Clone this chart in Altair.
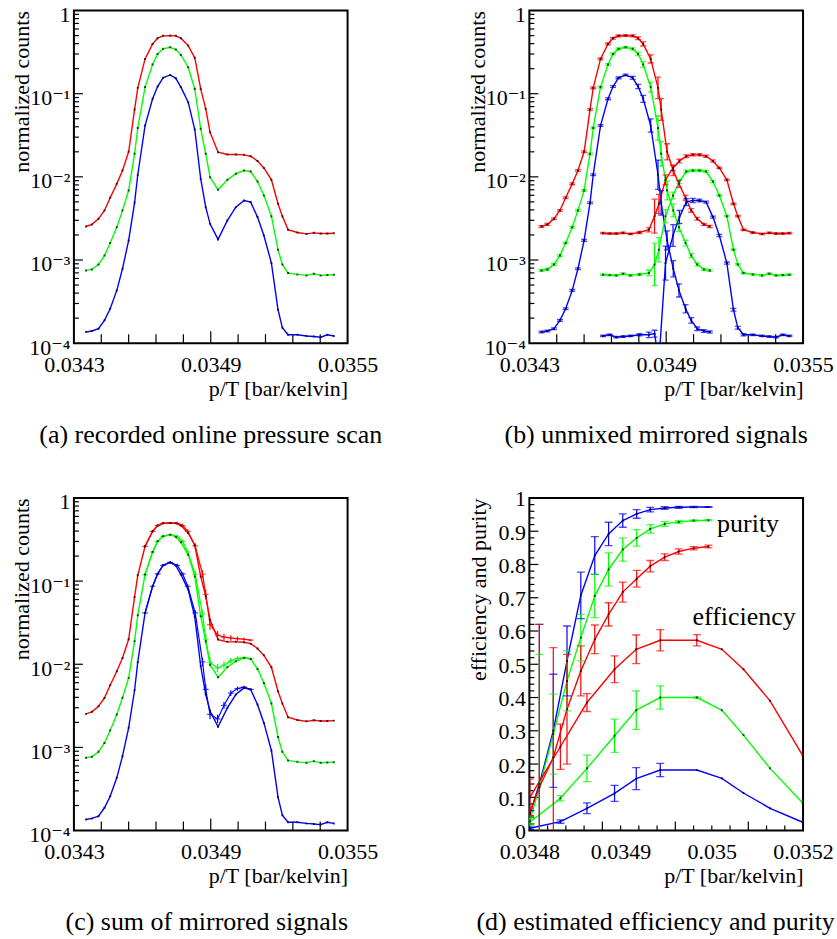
import altair as alt
import pandas as pd

FONT = "'Liberation Serif', 'Times New Roman', Times, 'DejaVu Serif', serif"
RED, GREEN, BLUE = "#ff0000", "#00ff00", "#0000ff"
W, H = 274, 333

# ---------------- (a) recorded online pressure scan ----------------
scan_x = [0.034353, 0.034379, 0.034408, 0.034434, 0.034459, 0.034488, 0.034513, 0.034540,
          0.034566, 0.034580, 0.034612, 0.034645, 0.034667, 0.034691, 0.034722, 0.034747,
          0.034769, 0.034801, 0.034830, 0.034856, 0.034878, 0.034897, 0.034932, 0.034973,
          0.035010, 0.035046, 0.035075, 0.035105, 0.035133, 0.035166, 0.035195, 0.035214,
          0.035239, 0.035280, 0.035320, 0.035352, 0.035382, 0.035411, 0.035440]
scan_red = [2.53e-3, 2.68e-3, 3.13e-3, 3.94e-3, 5.60e-3, 8.24e-3, 1.19e-2, 2.00e-2, 6.45e-2,
            0.1175, 0.262, 0.397, 0.465, 0.496, 0.500, 0.496, 0.465, 0.379, 0.270, 0.114,
            0.0658, 0.0344, 0.0198, 0.0186, 0.0186, 0.0184, 0.0177, 0.0155, 0.0128, 0.0092,
            0.00474, 0.00337, 0.00231, 0.00214, 0.00206, 0.00212, 0.00208, 0.00208, 0.00210]
scan_green = [7.50e-4, 7.71e-4, 8.85e-4, 1.13e-3, 1.60e-3, 2.48e-3, 3.95e-3, 6.86e-3, 1.89e-2,
              3.88e-2, 0.120, 0.224, 0.301, 0.346, 0.362, 0.340, 0.293, 0.208, 0.114, 0.0378,
              0.0189, 0.0099, 6.98e-3, 9.20e-3, 1.09e-2, 1.19e-2, 1.16e-2, 8.79e-3, 5.97e-3,
              3.37e-3, 1.33e-3, 8.85e-4, 6.97e-4, 6.71e-4, 6.53e-4, 6.84e-4, 6.53e-4, 6.59e-4, 6.65e-4]
scan_blue = [1.36e-4, 1.40e-4, 1.49e-4, 1.88e-4, 2.59e-4, 4.31e-4, 7.85e-4, 1.72e-3, 4.87e-3,
             1.06e-2, 4.14e-2, 8.67e-2, 0.122, 0.155, 0.168, 0.153, 0.120, 0.0791, 0.0371,
             9.46e-3, 4.32e-3, 2.72e-3, 1.77e-3, 2.99e-3, 4.32e-3, 5.20e-3, 4.97e-3, 3.28e-3,
             1.97e-3, 9.18e-4, 2.52e-4, 1.53e-4, 1.26e-4, 1.26e-4, 1.22e-4, 1.20e-4, 1.18e-4,
             1.26e-4, 1.22e-4]

# ---------------- (b) unmixed mirrored signals ----------------
left_x = [0.034353, 0.034379, 0.034408, 0.034434, 0.034459, 0.034488, 0.034513, 0.034540,
          0.034566, 0.034580, 0.034612, 0.034645, 0.034667, 0.034691, 0.034722, 0.034753,
          0.034777, 0.034799, 0.034832, 0.034864, 0.034878, 0.034904, 0.034931, 0.034956,
          0.034985, 0.035010, 0.035036, 0.035065, 0.035091]
left_red = [2.53e-3, 2.68e-3, 3.13e-3, 3.94e-3, 5.60e-3, 8.24e-3, 1.19e-2, 2.00e-2, 6.45e-2,
            0.1175, 0.262, 0.397, 0.465, 0.496, 0.500, 0.496, 0.465, 0.397, 0.262, 0.1175,
            6.45e-2, 2.00e-2, 1.19e-2, 8.24e-3, 5.60e-3, 3.94e-3, 3.13e-3, 2.68e-3, 2.53e-3]
left_green = [7.50e-4, 7.71e-4, 8.85e-4, 1.13e-3, 1.60e-3, 2.48e-3, 3.95e-3, 6.86e-3, 1.89e-2,
              3.88e-2, 0.120, 0.224, 0.301, 0.346, 0.362, 0.346, 0.301, 0.224, 0.120, 3.88e-2,
              1.89e-2, 6.86e-3, 3.95e-3, 2.48e-3, 1.60e-3, 1.13e-3, 8.85e-4, 7.71e-4, 7.50e-4]
left_blue = [1.36e-4, 1.40e-4, 1.49e-4, 1.88e-4, 2.59e-4, 4.31e-4, 7.85e-4, 1.72e-3, 4.87e-3,
             1.06e-2, 4.14e-2, 8.67e-2, 0.122, 0.155, 0.168, 0.155, 0.122, 8.67e-2, 4.14e-2,
             1.06e-2, 4.87e-3, 1.72e-3, 7.85e-4, 4.31e-4, 2.59e-4, 1.88e-4, 1.49e-4, 1.40e-4, 1.36e-4]
left_red_err = [1.025, 1.025, 1.025, 1.025, 1.025, 1.025, 1.025, 1.025, 1.025, 1.025, 1.025,
                1.025, 1.025, 1.025, 1.025, 1.03, 1.04, 1.06, 1.12, 1.35, 1.35, 1.25, 1.15,
                1.10, 1.07, 1.05, 1.04, 1.03, 1.03]
left_green_err = [1.025, 1.025, 1.025, 1.025, 1.025, 1.025, 1.025, 1.025, 1.025, 1.025, 1.025,
                  1.025, 1.025, 1.025, 1.025, 1.03, 1.05, 1.08, 1.15, 1.40, 1.40, 1.30, 1.20,
                  1.12, 1.08, 1.06, 1.04, 1.03, 1.03]
left_blue_err = [1.025, 1.025, 1.025, 1.025, 1.025, 1.025, 1.025, 1.025, 1.025, 1.025, 1.025,
                 1.025, 1.025, 1.025, 1.025, 1.04, 1.06, 1.10, 1.20, 1.50, 1.40, 1.30, 1.25,
                 1.20, 1.12, 1.08, 1.05, 1.04, 1.03]

right_x = [0.034623, 0.034652, 0.034681, 0.034711, 0.034743, 0.034783, 0.034824, 0.034849,
           0.034868, 0.034897, 0.034930, 0.034958, 0.034988, 0.035017, 0.035046, 0.035075,
           0.035105, 0.035133, 0.035166, 0.035195, 0.035214, 0.035239, 0.035280, 0.035320,
           0.035352, 0.035382, 0.035411, 0.035440]
right_red = [0.00210, 0.00208, 0.00208, 0.00212, 0.00206, 0.00214, 0.00231, 0.00337, 0.00474,
             0.0092, 0.0128, 0.0155, 0.0177, 0.0184, 0.0184, 0.0177, 0.0155, 0.0128, 0.0092,
             0.00474, 0.00337, 0.00231, 0.00214, 0.00206, 0.00212, 0.00208, 0.00208, 0.00210]
right_green = [6.65e-4, 6.59e-4, 6.53e-4, 6.84e-4, 6.53e-4, 6.71e-4, 6.97e-4, 8.85e-4, 1.33e-3,
               3.37e-3, 5.97e-3, 8.79e-3, 1.16e-2, 1.19e-2, 1.19e-2, 1.16e-2, 8.79e-3, 5.97e-3,
               3.37e-3, 1.33e-3, 8.85e-4, 6.97e-4, 6.71e-4, 6.53e-4, 6.84e-4, 6.53e-4, 6.59e-4, 6.65e-4]
right_blue = [1.22e-4, 1.26e-4, 1.18e-4, 1.20e-4, 1.22e-4, 1.26e-4, 1.26e-4, 1.30e-4, 6.0e-5,
              9.18e-4, 1.97e-3, 3.28e-3, 4.97e-3, 5.20e-3, 5.20e-3, 4.97e-3, 3.28e-3, 1.97e-3,
              9.18e-4, 2.52e-4, 1.53e-4, 1.26e-4, 1.26e-4, 1.22e-4, 1.20e-4, 1.18e-4, 1.26e-4, 1.22e-4]
right_red_err = [1.02, 1.02, 1.02, 1.02, 1.02, 1.03, 1.06, 1.60, 1.30, 1.15, 1.08, 1.05, 1.04,
                 1.03, 1.03, 1.03, 1.03, 1.02, 1.02, 1.02, 1.02, 1.02, 1.02, 1.02, 1.02, 1.02,
                 1.02, 1.02]
right_green_err = [1.02, 1.02, 1.02, 1.02, 1.02, 1.03, 1.08, 1.80, 1.40, 1.20, 1.10, 1.06, 1.04,
                   1.03, 1.03, 1.03, 1.03, 1.02, 1.02, 1.02, 1.02, 1.02, 1.02, 1.02, 1.02, 1.02,
                   1.02, 1.02]
right_blue_err = [1.02, 1.02, 1.02, 1.02, 1.02, 1.03, 1.08, 1.10, 1.00, 1.60, 1.35, 1.20, 1.10,
                  1.06, 1.04, 1.03, 1.03, 1.03, 1.03, 1.04, 1.04, 1.03, 1.02, 1.02, 1.02, 1.02,
                  1.02, 1.02]

# ---------------- (c) sum of mirrored signals ----------------
sum_x = [0.034612, 0.034645, 0.034667, 0.034691, 0.034722, 0.034753, 0.034777, 0.034799,
         0.034832, 0.034864, 0.034878, 0.034897, 0.034930, 0.034958, 0.034988, 0.035017,
         0.035046, 0.035075]
sum_red = [0.262, 0.397, 0.465, 0.496, 0.500, 0.496, 0.465, 0.397, 0.265, 0.121, 0.069, 0.030,
           0.0225, 0.0212, 0.0207, 0.0203, 0.0200, 0.0195]
sum_green = [0.120, 0.224, 0.301, 0.346, 0.362, 0.346, 0.301, 0.224, 0.121, 0.040, 0.020,
             0.0105, 0.0090, 0.0098, 0.0110, 0.0118, 0.0120, 0.0117]
sum_blue = [0.0414, 0.0867, 0.122, 0.155, 0.168, 0.155, 0.122, 0.0867, 0.0414, 0.0107, 0.0050,
            0.0025, 0.0022, 0.0032, 0.0045, 0.0051, 0.0053, 0.0050]
sum_err = [1.03, 1.03, 1.03, 1.03, 1.03, 1.04, 1.05, 1.06, 1.08, 1.12, 1.15, 1.15, 1.12, 1.10,
           1.08, 1.06, 1.04, 1.03]

# ---------------- (d) estimated efficiency and purity ----------------
pur_x = [0.0347807, 0.0347946, 0.0348150, 0.0348350, 0.0348552, 0.0348756, 0.0348958,
         0.0349165, 0.0349369, 0.0349567, 0.0349778, 0.0349983, 0.0350202, 0.0350418]
pur_blue = [0.05, 0.14, 0.30, 0.51, 0.707, 0.827, 0.892, 0.932, 0.952, 0.965, 0.970, 0.972, 0.973, 0.973]
pur_blue_err = [0.01, 0.48, 0.17, 0.105, 0.07, 0.057, 0.035, 0.02, 0.013, 0.007, 0.004, 0.003, 0.002, 0.001]
pur_green = [0.03, 0.13, 0.29, 0.45, 0.58, 0.705, 0.785, 0.845, 0.88, 0.907, 0.922, 0.928, 0.932, 0.933]
pur_green_err = [0.01, 0.40, 0.12, 0.09, 0.07, 0.065, 0.05, 0.035, 0.025, 0.013, 0.007, 0.004, 0.002, 0.002]
pur_red = [0.055, 0.13, 0.22, 0.365, 0.48, 0.575, 0.65, 0.717, 0.757, 0.795, 0.822, 0.839, 0.849, 0.854]
pur_red_err = [0.01, 0.49, 0.33, 0.165, 0.075, 0.043, 0.035, 0.03, 0.025, 0.017, 0.01, 0.008, 0.005, 0.004]

eff_x = [0.0347807, 0.0348253, 0.0348642, 0.0349045, 0.0349362, 0.0349713, 0.0350248,
         0.0350613, 0.0350929, 0.0351318, 0.0351796]
eff_blue = [0.007, 0.027, 0.067, 0.112, 0.156, 0.182, 0.182, 0.157, 0.113, 0.067, 0.025]
eff_blue_err = [0.003, 0.005, 0.016, 0.024, 0.033, 0.02, 0, 0, 0, 0, 0]
eff_green = [0.025, 0.097, 0.187, 0.285, 0.362, 0.40, 0.40, 0.362, 0.287, 0.187, 0.083]
eff_green_err = [0.01, 0.008, 0.04, 0.05, 0.058, 0.035, 0.002, 0, 0, 0, 0]
eff_red = [0.10, 0.252, 0.385, 0.485, 0.545, 0.572, 0.572, 0.545, 0.485, 0.39, 0.225]
eff_red_err = [0.055, 0.068, 0.027, 0.04, 0.043, 0.032, 0.017, 0, 0, 0, 0]

captions = ["(a) recorded online pressure scan", "(b) unmixed mirrored signals",
            "(c) sum of mirrored signals", "(d) estimated efficiency and purity"]


def table(x, series, mode=None):
    out = []
    for name, col, vals, errs in series:
        for i, (xx, v) in enumerate(zip(x, vals)):
            r = {"x": xx, "y": v, "s": name, "c": col}
            if errs is not None:
                e = errs[i]
                if mode == "log":
                    r["lo"], r["hi"] = v / e, v * e
                else:
                    r["lo"], r["hi"] = v - e, v + e
                r["e"] = e
            out.append(r)
    return pd.DataFrame(out)


common_axis = dict(ticks=False, tickSize=0, domain=False, grid=False, labelFont=FONT,
                   labelFontSize=22, labelColor="black", titleFont=FONT, titleFontSize=22,
                   titleFontWeight="normal", titleColor="black", labelOverlap=False,
                   labelFlush=False)

XS_A = alt.Scale(domain=[0.0343, 0.0355], nice=False, zero=False)
XS_D = alt.Scale(domain=[0.03478, 0.03518], nice=False, zero=False)
YS_LOG = alt.Scale(type="log", domain=[1e-4, 1], nice=False)
YS_D = alt.Scale(domain=[0, 1], nice=False, zero=False)

XA_A = alt.Axis(values=[0.0343, 0.0349, 0.0355], format=".4f", labelPadding=11,
                title="p/T [bar/kelvin]", titleX=W, titleY=52, titleAlign="right",
                titleBaseline="alphabetic", **common_axis)
XA_D = alt.Axis(values=[0.03478, 0.0349133, 0.0350467, 0.03518],
                labelExpr="datum.value < 0.0348 ? '0.0348' : datum.value < 0.035 ? '0.0349' : datum.value < 0.0351 ? '0.035' : '0.0352'",
                labelPadding=11, title="p/T [bar/kelvin]", titleX=W, titleY=52,
                titleAlign="right", titleBaseline="alphabetic", **common_axis)
YA_LOG = alt.Axis(values=[1e-4, 1e-3, 1e-2, 1e-1, 1],
                  labelExpr="datum.value > 0.5 ? '1' : datum.value > 0.05 ? '10⁻¹' : datum.value > 0.005 ? '10⁻²' : datum.value > 0.0005 ? '10⁻³' : '10⁻⁴'",
                  labelPadding=4, labelOffset=4, labelBaseline="middle",
                  title="normalized counts", titleX=-45, titleY=0, titleAngle=270,
                  titleAlign="right", titleBaseline="alphabetic", **common_axis)
YA_D = alt.Axis(values=[0, 0.1, 0.2, 0.3, 0.4, 0.5, 0.6, 0.7, 0.8, 0.9, 1.0],
                labelExpr="datum.value < 0.01 ? '0' : datum.value > 0.99 ? '1' : format(datum.value, '.1f')",
                labelPadding=4, labelOffset=1, labelBaseline="middle",
                title="efficiency and purity", titleX=-44, titleY=0, titleAngle=270,
                titleAlign="right", titleBaseline="alphabetic", **common_axis)


def enc(field, scale, axis, ch):
    if ch == "x":
        return alt.X(field + ":Q", scale=scale, axis=axis)
    return alt.Y(field + ":Q", scale=scale, axis=axis)


def lines(df, P, sw=1.4):
    return alt.Chart(df).mark_line(clip=True, strokeWidth=sw).encode(
        x=enc("x", P["xs"], P["xa"], "x"), y=enc("y", P["ys"], P["ya"], "y"),
        color=alt.Color("c:N", scale=None), detail="s:N", order=alt.Order("x:Q"))


def dots(df, P):
    return alt.Chart(df).mark_square(size=4, color="black", opacity=0.7, clip=True).encode(
        x=enc("x", P["xs"], P["xa"], "x"), y=enc("y", P["ys"], P["ya"], "y"))


def errbars(df, P, cap=6, caps=True, cross=False):
    base = alt.Chart(df)
    X = enc("x", P["xs"], P["xa"], "x")
    col = alt.Color("c:N", scale=None)
    out = [base.mark_rule(clip=True, strokeWidth=1.2).encode(
        x=X, y=enc("lo", P["ys"], P["ya"], "y"), y2="hi:Q", color=col)]
    if caps:
        for f in ("lo", "hi"):
            out.append(base.mark_tick(orient="horizontal", size=cap, thickness=1.3, clip=True).encode(
                x=X, y=enc(f, P["ys"], P["ya"], "y"), color=col))
    if cross:
        out.append(base.mark_tick(orient="horizontal", size=cap, thickness=1.2, clip=True).encode(
            x=X, y=enc("y", P["ys"], P["ya"], "y"), color=col))
    return out


def xticks(vals, length, P):
    return alt.Chart(pd.DataFrame({"t": vals})).mark_rule(color="black", strokeWidth=1.2).encode(
        x=enc("t", P["xs"], P["xa"], "x"), y=alt.value(H), y2=alt.value(H - length))


def yticks(vals, length, P):
    return alt.Chart(pd.DataFrame({"t": vals})).mark_rule(color="black", strokeWidth=1.2).encode(
        y=enc("t", P["ys"], P["ya"], "y"), x=alt.value(0), x2=alt.value(length))


def text(t, x, y, size=26, align="center", limit=None):
    kw = dict(font=FONT, fontSize=size, align=align, baseline="alphabetic", color="black")
    if limit:
        kw.update(limit=limit, ellipsis="\u200b")
    return alt.Chart(pd.DataFrame({"t": [t]})).mark_text(**kw).encode(
        x=alt.value(x), y=alt.value(y), text="t:N")


PLOG = dict(xs=XS_A, xa=XA_A, ys=YS_LOG, ya=YA_LOG)
PD = dict(xs=XS_D, xa=XA_D, ys=YS_D, ya=YA_D)

log_minor = [m * 10.0 ** k for k in (-4, -3, -2, -1) for m in range(2, 10)]
log_major = [1e-3, 1e-2, 1e-1]
xa_minor = [0.0343 + 0.00012 * k for k in (1, 2, 3, 4, 6, 7, 8, 9)]
xa_major = [0.0349]
xd_minor = [0.03478 + 0.0004 / 15 * k for k in range(1, 15) if k % 4]
xd_major = [0.03478 + 0.0004 / 15 * k for k in (4, 8, 12)]
yd_minor = [i / 50 for i in range(1, 50) if i % 5]
yd_major = [i / 10 for i in range(1, 10)]


def log_ticks():
    return [yticks(log_minor, 5, PLOG), yticks(log_major, 9, PLOG),
            xticks(xa_minor, 9, PLOG), xticks(xa_major, 12, PLOG)]


scan_df = table(scan_x, [("r", RED, scan_red, None), ("g", GREEN, scan_green, None),
                         ("b", BLUE, scan_blue, None)])

# panel (a)
pa = alt.layer(*log_ticks(), lines(scan_df, PLOG), dots(scan_df, PLOG),
               text(captions[0], 137, 433)).properties(width=W, height=H)

# panel (b)
left_df = table(left_x, [("lr", RED, left_red, left_red_err), ("lg", GREEN, left_green, left_green_err),
                         ("lb", BLUE, left_blue, left_blue_err)], mode="log")
right_df = table(right_x, [("rr", RED, right_red, right_red_err), ("rg", GREEN, right_green, right_green_err),
                           ("rb", BLUE, right_blue, right_blue_err)], mode="log")
pb = alt.layer(*log_ticks(), lines(left_df, PLOG), lines(right_df, PLOG),
               *errbars(left_df, PLOG, cap=6), *errbars(right_df, PLOG, cap=6),
               dots(left_df, PLOG), dots(right_df, PLOG),
               text(captions[1], 127, 433)).properties(width=W, height=H)

# panel (c)
sum_df = table(sum_x, [("sr", RED, sum_red, sum_err), ("sg", GREEN, sum_green, sum_err),
                       ("sb", BLUE, sum_blue, sum_err)], mode="log")
pc = alt.layer(*log_ticks(), lines(scan_df, PLOG), lines(sum_df, PLOG, sw=1.2),
               *errbars(sum_df, PLOG, cap=6, caps=False, cross=True), dots(scan_df, PLOG),
               text(captions[2], 133, 433)).properties(width=W, height=H)

# panel (d)
pur_df = table(pur_x, [("pb", BLUE, pur_blue, pur_blue_err), ("pg", GREEN, pur_green, pur_green_err),
                       ("pr", RED, pur_red, pur_red_err)])
eff_df = table(eff_x, [("eb", BLUE, eff_blue, eff_blue_err), ("eg", GREEN, eff_green, eff_green_err),
                       ("er", RED, eff_red, eff_red_err)])
eff_err_df = eff_df[eff_df["e"] > 0]
pdp = alt.layer(yticks(yd_minor, 5, PD), yticks(yd_major, 9, PD),
                xticks(xd_minor, 5, PD), xticks(xd_major, 9, PD),
                lines(pur_df, PD), lines(eff_df, PD),
                *errbars(pur_df, PD, cap=8), *errbars(eff_err_df, PD, cap=8),
                dots(pur_df, PD), dots(eff_df, PD),
                text("purity", 219, 34), text("efficiency", 215, 127),
                text(captions[3], -53, 433, align="left", limit=360)).properties(width=W, height=H)

chart = alt.concat(pa, pb, pc, pdp, columns=2, spacing={"row": 155, "column": 182},
                   bounds="flush").properties(
    padding={"left": 10, "top": 2, "right": 0, "bottom": 0}
).configure(background="white").configure_view(stroke="black", strokeWidth=2)

chart.save("out.html", embed_options={"renderer": "svg", "actions": False})
